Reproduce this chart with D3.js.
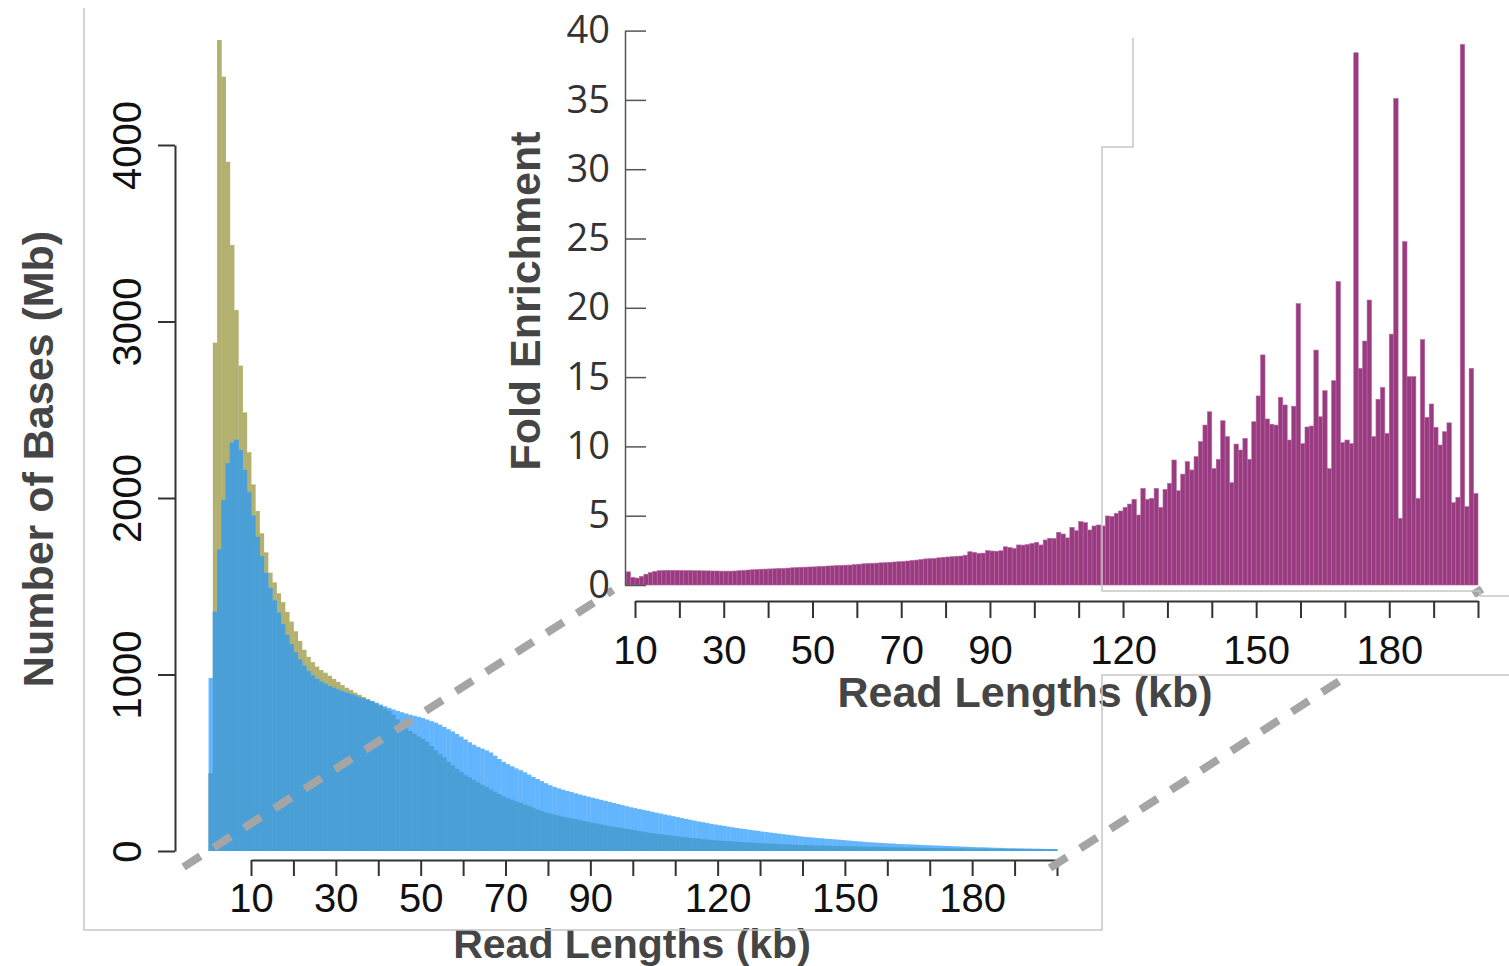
<!DOCTYPE html>
<html><head><meta charset="utf-8">
<script src="https://cdn.jsdelivr.net/npm/d3@7"></script>
<style>
html,body{margin:0;padding:0;background:#fff;}
svg{display:block;}
</style></head><body>
<svg id="chart" width="1509" height="966"></svg>
<script>
// ---------- DATA ----------
// Left histogram: 1-kb bins starting at 0 kb
const binStarts = d3.range(0, 200);
const controlMb = [
440,2880,4595,4387,3905,3433,3065,2750,2485,2259,
2077,1926,1800,1692,1577,1522,1460,1410,1355,1300,
1245,1190,1140,1100,1070,1045,1025,1010,993,975,
958,940,925,912,897,885,873,862,850,836,
822,808,795,772,745,715,695,680,664,648,
635,618,595,570,550,530,505,485,465,448,
430,418,403,390,375,362,348,336,322,310,
300,290,280,273,264,255,245,235,226,218,
212,205,200,195,190,186,181,175,170,165,
160,155,150,146,141,137,133,129,125,121,
117,113,109,105,101,98,95,92,89,86,
83,80,77,75,72,70,67,65,63,61,
59,57,56,54,52,51,49,48,46,45,
44,43,41,40,39,38,37,36,35,34,
34,33,32,31,31,30,29,29,28,28,
27,27,26,26,25,25,24,24,23,23,
22,22,21,21,20,20,19,19,18,18,
17,17,16,16,16,15,15,15,14,14,
14,13,13,13,12,12,12,11,11,11,
11,10,10,10,10,9,9,9,9,8];
const enrichedMb = [
980,1356,1709,1989,2197,2313,2330,2272,2159,2032,
1900,1780,1670,1575,1490,1420,1350,1285,1225,1172,
1125,1085,1050,1020,995,975,960,948,935,925,
915,905,897,890,882,873,865,856,848,840,
830,820,811,802,794,786,779,772,766,760,
753,745,736,727,716,703,690,677,663,648,
632,616,602,590,580,570,558,540,521,505,
492,480,468,458,446,433,420,408,396,384,
373,363,355,347,340,334,327,320,314,308,
302,296,290,284,278,272,266,260,254,248,
243,238,233,228,223,217,212,207,202,197,
192,187,182,177,172,167,163,158,154,150,
146,142,138,134,130,127,124,120,117,114,
110,107,104,101,98,95,92,89,86,83,
80,78,76,74,72,70,68,66,64,62,
60,58,56,54,52,50,49,47,46,44,
43,42,40,39,38,37,36,35,34,33,
32,31,30,29,28,27,26,25,24,23,
22,21,21,20,19,18,18,17,16,16,
15,15,14,14,13,13,12,12,11,11];
const leftYTicks = [0, 1000, 2000, 3000, 4000];
const xTickValues = d3.range(10, 201, 10);
const xTickLabels = [10, 30, 50, 70, 90, 120, 150, 180];

// Inset: fold enrichment, 1-kb bins starting at 8 kb
const insetBinStarts = d3.range(8, 200);
const foldEnrichment = [
0.95,0.55,0.5,0.62,0.78,0.9,0.98,1.03,1.05,1.06,
1.06,1.05,1.05,1.04,1.04,1.03,1.03,1.02,1.02,1.01,
1.01,1.0,1.0,1.0,1.01,1.03,1.05,1.08,1.1,1.12,
1.14,1.15,1.16,1.17,1.19,1.2,1.22,1.24,1.26,1.28,
1.29,1.3,1.31,1.33,1.35,1.37,1.38,1.4,1.41,1.43,
1.44,1.47,1.5,1.53,1.55,1.57,1.58,1.6,1.61,1.64,
1.66,1.68,1.7,1.73,1.77,1.8,1.84,1.88,1.9,1.92,
1.96,2.0,2.02,2.04,2.07,2.09,2.15,2.4,2.35,2.29,
2.3,2.48,2.45,2.44,2.47,2.76,2.7,2.64,2.89,2.88,
2.92,3.0,3.08,2.89,3.25,3.37,3.35,3.8,3.68,3.4,
4.16,3.92,4.57,4.5,3.97,4.26,4.33,4.26,4.98,4.95,
5.17,5.34,5.6,5.84,6.18,5.05,6.97,6.18,6.25,6.97,
5.6,6.9,7.34,9.02,6.8,8.0,8.9,8.3,9.26,10.34,
11.54,12.5,8.4,9.07,11.85,10.7,7.38,10.17,9.74,10.58,
9.07,11.78,13.64,16.6,11.98,11.6,11.54,13.54,12.99,10.46,
12.9,20.3,10.2,11.4,11.47,16.95,12.14,14.02,8.4,14.74,
21.9,10.27,10.46,10.2,38.4,15.63,17.6,20.56,10.7,13.4,
14.26,10.94,18.1,35.1,4.81,24.77,15.03,15.03,6.25,17.7,
12.1,13.06,11.38,10.1,11.06,11.7,5.94,6.33,39.0,5.65,
15.63,6.6];
const insetYTicks = [0, 5, 10, 15, 20, 25, 30, 35, 40];

// ---------- STYLE ----------
const OLIVE = "#b3b16f", LIGHTBLUE = "#63b5fd", OVERLAP = "#4aa0d6", PURPLE = "#983b80";
const SANS = "'Liberation Sans', Arial, Helvetica, sans-serif";
const svg = d3.select("#chart");

// ---------- SCALES ----------
const xL = d3.scaleLinear().domain([10, 200]).range([251, 1057]);
const yL = d3.scaleLinear().domain([0, 4000]).range([851, 145]);
const xI = d3.scaleLinear().domain([10, 200]).range([635, 1478]);
const yI = d3.scaleLinear().domain([0, 40]).range([585, 30.6]);

// ---------- LEFT HISTOGRAM ----------
const left = svg.append("g");
const bw = k => xL(k + 1) - xL(k) + 0.4;
left.append("g").selectAll("rect").data(binStarts).join("rect")
  .attr("x", k => xL(k)).attr("width", bw)
  .attr("y", (k, i) => yL(controlMb[i])).attr("height", (k, i) => yL(0) - yL(controlMb[i]))
  .attr("fill", OLIVE);
left.append("g").selectAll("rect").data(binStarts).join("rect")
  .attr("x", k => xL(k)).attr("width", bw)
  .attr("y", (k, i) => yL(enrichedMb[i])).attr("height", (k, i) => yL(0) - yL(enrichedMb[i]))
  .attr("fill", LIGHTBLUE);
left.append("g").selectAll("rect").data(binStarts).join("rect")
  .attr("x", k => xL(k)).attr("width", bw)
  .attr("y", (k, i) => yL(Math.min(controlMb[i], enrichedMb[i])))
  .attr("height", (k, i) => yL(0) - yL(Math.min(controlMb[i], enrichedMb[i])))
  .attr("fill", OVERLAP);

// left y axis
const gyL = svg.append("g").attr("transform", "translate(175,0)")
  .call(d3.axisLeft(yL).tickValues(leftYTicks).tickSizeInner(17).tickSizeOuter(0).tickFormat(d3.format("d")));
gyL.selectAll("path,line").attr("stroke", "#333").attr("stroke-width", 2);
gyL.selectAll("text").attr("font-family", SANS).attr("font-size", 40).attr("fill", "#111")
  .attr("x", 0).attr("dy", 0).attr("text-anchor", "middle")
  .attr("transform", "translate(-34,0) rotate(-90)");

// left x axis
const gxL = svg.append("g").attr("transform", "translate(0,860)")
  .call(d3.axisBottom(xL).tickValues(xTickValues).tickSizeInner(16).tickSizeOuter(0).tickPadding(8)
    .tickFormat(d => xTickLabels.includes(d) ? d : ""));
gxL.selectAll("path,line").attr("stroke", "#333").attr("stroke-width", 2);
gxL.selectAll("text").attr("font-family", SANS).attr("font-size", 40).attr("fill", "#111");

// titles
svg.append("text").attr("transform", "translate(53,459) rotate(-90)")
  .attr("text-anchor", "middle").attr("font-family", SANS).attr("font-weight", "bold")
  .attr("font-size", 43).attr("fill", "#454545").text("Number of Bases (Mb)");
svg.append("text").attr("x", 632).attr("y", 958)
  .attr("text-anchor", "middle").attr("font-family", SANS).attr("font-weight", "bold")
  .attr("font-size", 41).attr("fill", "#454545").text("Read Lengths (kb)");

// ---------- ZOOM CONNECTORS ----------
const conn = svg.append("g").attr("stroke", "#a5a5a5").attr("stroke-width", 8)
  .attr("stroke-dasharray", "20,16").attr("fill", "none");
conn.append("line").attr("x1", xL(0) - 25).attr("y1", yL(0) + 16)
  .attr("x2", xI(8) - 13).attr("y2", yI(0) + 5);
conn.append("line").attr("x1", xL(200) - 7).attr("y1", yL(0) + 17)
  .attr("x2", xI(200) + 4).attr("y2", yI(0) + 4);

// inset axis panel background (hides connector behind it)
svg.append("rect").attr("x", 620).attr("y", 597).attr("width", 889).attr("height", 78).attr("fill", "#fff");

// ---------- INSET ----------
svg.append("g").selectAll("rect").data(insetBinStarts).join("rect")
  .attr("x", k => xI(k)).attr("width", k => xI(k + 1) - xI(k))
  .attr("y", (k, i) => yI(foldEnrichment[i])).attr("height", (k, i) => yI(0) - yI(foldEnrichment[i]))
  .attr("fill", PURPLE).attr("stroke", "#b9679f").attr("stroke-width", 0.6);

const gyI = svg.append("g").attr("transform", "translate(625,0)")
  .call(d3.axisLeft(yI).tickValues(insetYTicks).tickSizeInner(-21).tickSizeOuter(0).tickPadding(15));
gyI.selectAll("path,line").attr("stroke", "#555").attr("stroke-width", 1.5);
gyI.selectAll("text").attr("font-family", "'Open Sans', 'Noto Sans', sans-serif")
  .attr("font-size", 38).attr("fill", "#333");

const gxI = svg.append("g").attr("transform", "translate(0,601)")
  .call(d3.axisBottom(xI).tickValues(xTickValues).tickSizeInner(17).tickSizeOuter(0).tickPadding(18)
    .tickFormat(d => xTickLabels.includes(d) ? d : ""));
gxI.selectAll("path,line").attr("stroke", "#333").attr("stroke-width", 2);
gxI.selectAll("text").attr("font-family", SANS).attr("font-size", 40).attr("fill", "#111");

svg.append("text").attr("transform", "translate(540,301) rotate(-90)")
  .attr("text-anchor", "middle").attr("font-family", SANS).attr("font-weight", "bold")
  .attr("font-size", 43).attr("fill", "#454545").text("Fold Enrichment");
svg.append("text").attr("x", 1025).attr("y", 707)
  .attr("text-anchor", "middle").attr("font-family", SANS).attr("font-weight", "bold")
  .attr("font-size", 43).attr("fill", "#454545").text("Read Lengths (kb)");

// ---------- PANEL EDGES ----------
const edges = svg.append("g").attr("stroke", "#c6c6c6").attr("stroke-width", 1.5).attr("fill", "none");
edges.append("path").attr("d", "M84,8V930H1102V675H1509");
edges.append("path").attr("d", "M1133,38V147H1102V591H1480V596H1509");
</script>
</body></html>
